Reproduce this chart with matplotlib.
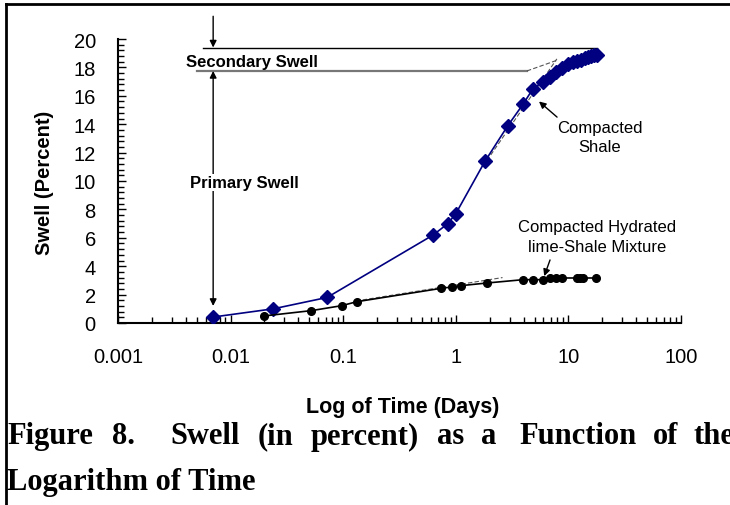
import matplotlib.pyplot as plt
import matplotlib.lines as mlines
import numpy as np

# --- data (time in days, swell in percent)
shale_t = [0.007, 0.024, 0.072, 0.63, 0.85, 1.0, 1.82, 2.9, 3.95, 4.85, 5.95, 6.9,
           7.8, 8.8, 10, 11, 12, 13, 14, 15, 16, 17, 18]
shale_s = [0.42, 1.0, 1.8, 6.2, 7.0, 7.7, 11.4, 13.9, 15.4, 16.5, 17.0, 17.3,
           17.7, 17.95, 18.25, 18.35, 18.45, 18.55, 18.65, 18.7, 18.8, 18.85, 18.9]

lime_t = [0.02, 0.052, 0.097, 0.132, 0.74, 0.93, 1.11, 1.91, 3.95, 4.85, 5.95,
          6.9, 7.7, 8.8, 11.9, 12.7, 13.5, 17.6]
lime_s = [0.5, 0.87, 1.22, 1.5, 2.44, 2.54, 2.63, 2.82, 3.05, 3.05, 3.05,
          3.17, 3.17, 3.17, 3.17, 3.17, 3.17, 3.17]

# Casagrande construction tangents (dashed)
shale_tan1_t, shale_tan1_s = [1.75, 7.9], [11.06, 18.6]
shale_tan2_t, shale_tan2_s = [4.28, 7.9], [17.75, 18.5]
lime_tan_t, lime_tan_s = [0.13, 2.6], [1.55, 3.2]

primary_end = 17.75     # end of primary swell
secondary_end = 19.4    # end of secondary swell

plt.rcParams['font.family'] = ['Liberation Sans', 'DejaVu Sans']

fig = plt.figure(figsize=(7.30, 5.06), dpi=100)
ax = fig.add_axes([118/730, 1-324/506, (681-118)/730, (324-40)/506])

ax.plot(shale_t, shale_s, color='#000080', lw=1.2, marker='D', ms=7.5,
        mfc='#000080', mec='#000080', zorder=4)
ax.plot(lime_t, lime_s, color='black', lw=1.2, marker='o', ms=5.5, zorder=4)

for tt, ss in [(shale_tan1_t, shale_tan1_s), (shale_tan2_t, shale_tan2_s),
               (lime_tan_t, lime_tan_s)]:
    ax.plot(tt, ss, color='#555555', lw=0.8, ls=(0, (4, 2)), zorder=3)

ax.set_xscale('log')
ax.set_xlim(0.001, 100)
ax.set_ylim(0, 20)
ax.set_yticks(np.arange(0, 21, 2))
ax.set_yticks(np.arange(0, 20.01, 0.4), minor=True)
ax.set_xticks([0.001, 0.01, 0.1, 1, 10, 100])
ax.set_xticklabels(['0.001', '0.01', '0.1', '1', '10', '100'])
ax.tick_params(axis='both', which='both', direction='in', labelsize=14.5, width=1)
ax.tick_params(axis='both', which='major', length=6)
ax.tick_params(axis='both', which='minor', length=4)
ax.tick_params(axis='y', which='both', pad=16)
ax.tick_params(axis='x', which='both', pad=17)
for s in ['top', 'right']:
    ax.spines[s].set_visible(False)
for s in ['left', 'bottom']:
    ax.spines[s].set_linewidth(1.5)

# secondary / primary swell markers
ax.plot([0.00569, 18], [secondary_end, secondary_end], color='black', lw=1)
ax.plot([0.00502, 4.28], [primary_end, primary_end], color='#777777', lw=1.6)
ax.annotate('', xy=(0.007, secondary_end), xytext=(0.007, 21.6),
            arrowprops=dict(arrowstyle='-|>', color='black', lw=1,
                            mutation_scale=10, shrinkA=0, shrinkB=0),
            annotation_clip=False)
ax.annotate('', xy=(0.007, 1.2), xytext=(0.007, primary_end),
            arrowprops=dict(arrowstyle='<|-|>', color='black', lw=1,
                            mutation_scale=10, shrinkA=0, shrinkB=0))
ax.text(0.0040, 18.4, 'Secondary Swell', fontsize=12, fontweight='bold',
        va='center', ha='left')
ax.text(0.00436, 9.9, 'Primary Swell', fontsize=12, fontweight='bold',
        va='center', ha='left',
        bbox=dict(facecolor='white', edgecolor='none', pad=1))

ax.text(19.1, 13.1, 'Compacted\nShale', fontsize=12, ha='center', va='center',
        linespacing=1.4)
ax.annotate('', xy=(5.48, 15.6), xytext=(7.93, 14.5),
            arrowprops=dict(arrowstyle='-|>', color='black', lw=1,
                            mutation_scale=10, shrinkA=0, shrinkB=0))
ax.text(17.9, 6.1, 'Compacted Hydrated\nlime-Shale Mixture', fontsize=12,
        ha='center', va='center', linespacing=1.4)
ax.annotate('', xy=(6.1, 3.3), xytext=(6.87, 4.44),
            arrowprops=dict(arrowstyle='-|>', color='black', lw=1,
                            mutation_scale=10, shrinkA=0, shrinkB=0))

fig.text(45/730, 1-183/506, 'Swell (Percent)', rotation=90, fontsize=14.5,
         fontweight='bold', ha='center', va='center')
fig.text(403/730, 1-408/506, 'Log of Time (Days)', fontsize=15.5,
         fontweight='bold', ha='center', va='center')

# caption (justified in the source, words placed one by one)
cap_words = ['Figure', '8.', 'Swell', '(in', 'percent)', 'as', 'a', 'Function', 'of', 'the']
cap_x = [7, 112, 170, 258, 311, 437, 481, 519, 653, 693]
for w, x in zip(cap_words, cap_x):
    fig.text(x/730, 1-437/506, w, family='Liberation Serif', fontweight='bold',
             fontsize=22, ha='left', va='center')
fig.text(7/730, 1-483/506, 'Logarithm of Time', family='Liberation Serif',
         fontweight='bold', fontsize=22, ha='left', va='center')

# figure frame (top and left edges visible in the crop)
fig.add_artist(mlines.Line2D([6/730, 1], [1-5/506, 1-5/506], color='black', lw=2,
                             transform=fig.transFigure))
fig.add_artist(mlines.Line2D([6/730, 6/730], [0, 1-5/506], color='black', lw=2,
                             transform=fig.transFigure))

fig.savefig('out.png', dpi=100)
